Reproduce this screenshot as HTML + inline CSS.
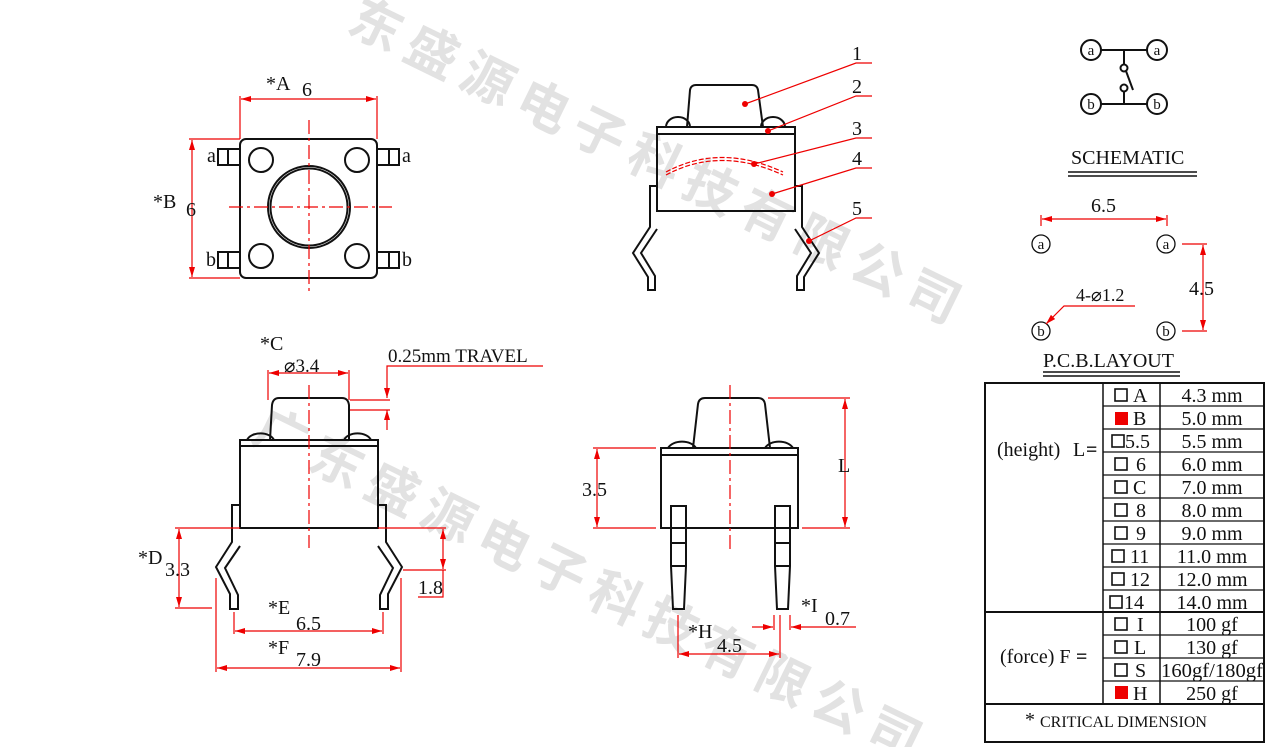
<!DOCTYPE html>
<html><head><meta charset="utf-8"><style>
html,body{margin:0;padding:0;background:#fff;overflow:hidden;width:1265px;height:747px;}
svg{display:block;}
text{font-family:"Liberation Serif","Noto Serif CJK SC",serif;fill:#111;}
text.wm{font-family:"Noto Sans CJK SC","WenQuanYi Zen Hei",sans-serif;font-weight:bold;fill:#e2e2e2;font-size:52px;}
</style></head><body>
<svg width="1265" height="747" viewBox="0 0 1265 747" xmlns="http://www.w3.org/2000/svg">
<defs>
<marker id="ar" viewBox="0 0 10 6" refX="10" refY="3" markerWidth="10" markerHeight="6" orient="auto-start-reverse" markerUnits="userSpaceOnUse"><path d="M0,0 L10,3 L0,6 z" fill="#e00"/></marker>
</defs>
<!-- watermark -->
<text class="wm" transform="translate(345,30) rotate(26)" letter-spacing="10">东盛源电子科技有限公司</text>
<text class="wm" transform="translate(250,440) rotate(26)" letter-spacing="10">广东盛源电子科技有限公司</text>

<g fill="none" stroke="#111" stroke-width="2">
<!-- TOP LEFT VIEW -->
<rect x="240" y="139" width="137" height="139" rx="6"/>
<circle cx="261" cy="160" r="12"/><circle cx="357" cy="160" r="12"/>
<circle cx="261" cy="256" r="12"/><circle cx="357" cy="256" r="12"/>
<circle cx="309" cy="207" r="41"/><circle cx="309" cy="207" r="38.5"/>
<rect x="218" y="149" width="22" height="16"/><line x1="228" y1="149" x2="228" y2="165"/>
<rect x="218" y="252" width="22" height="16"/><line x1="228" y1="252" x2="228" y2="268"/>
<rect x="377" y="149" width="22" height="16"/><line x1="389" y1="149" x2="389" y2="165"/>
<rect x="377" y="252" width="22" height="16"/><line x1="389" y1="252" x2="389" y2="268"/>

<!-- TOP MIDDLE SIDE VIEW -->
<path d="M687,127 L690,90 Q691,85 696,85 L752,85 Q757,85 758,90 L763,127"/>
<rect x="657" y="127" width="138" height="7"/>
<path d="M666,127 A12,10 0 0 1 690,127"/><path d="M761,127 A12,10 0 0 1 785,127"/>
<rect x="657" y="134" width="138" height="77"/>
<path d="M657,186 L650,186 L650,227 L633,253 L648,277 L648,290 L655,290 L655,276 L641,253 L657,229"/>
<path d="M795,186 L802,186 L802,227 L819,253 L804,277 L804,290 L797,290 L797,276 L811,253 L795,229"/>

<!-- BOTTOM LEFT -->
<path d="M270,440 L272,405 Q273,398 279,398 L342,398 Q348,398 349,405 L349,440"/>
<rect x="240" y="440" width="138" height="6"/>
<path d="M247,440 A14,9 0 0 1 274,440"/><path d="M344,440 A14,9 0 0 1 371,440"/>
<rect x="240" y="446" width="138" height="82"/>
<path d="M240,505 L232,505 L232,542 L216,567 L230,594 L230,609 L238,609 L238,595 L225,568 L240,546"/>
<path d="M378,505 L386,505 L386,542 L402,567 L388,594 L388,609 L380,609 L380,595 L393,568 L378,546"/>

<!-- BOTTOM MIDDLE -->
<path d="M693,448 L698,404 Q699,398 705,398 L758,398 Q764,398 765,404 L770,448"/>
<rect x="661" y="448" width="137" height="7"/>
<path d="M668,448 A15,10 0 0 1 696,448"/><path d="M765,448 A15,10 0 0 1 793,448"/>
<rect x="661" y="455" width="137" height="73"/>
<path d="M671,506 L686,506 L686,566 L684,609 L673,609 L671,566 Z"/>
<line x1="671" y1="543" x2="686" y2="543"/><line x1="671" y1="566" x2="686" y2="566"/>
<path d="M775,506 L790,506 L790,566 L788,609 L777,609 L775,566 Z"/>
<line x1="775" y1="543" x2="790" y2="543"/><line x1="775" y1="566" x2="790" y2="566"/>

<!-- SCHEMATIC -->
<circle cx="1091" cy="50" r="10"/><circle cx="1157" cy="50" r="10"/>
<circle cx="1091" cy="104" r="10"/><circle cx="1157" cy="104" r="10"/>
<line x1="1101" y1="50" x2="1147" y2="50"/><line x1="1124" y1="50" x2="1124" y2="64"/>
<circle cx="1124" cy="68" r="3.5"/><line x1="1126" y1="71" x2="1133" y2="90"/>
<circle cx="1124" cy="88" r="3.5"/><line x1="1124" y1="92" x2="1124" y2="104"/>
<line x1="1101" y1="104" x2="1147" y2="104"/>
<line x1="1068" y1="172" x2="1197" y2="172" stroke-width="1.5"/><line x1="1068" y1="176" x2="1197" y2="176" stroke-width="1.5"/>
<g stroke-width="1.3"><circle cx="1041" cy="244" r="9"/><circle cx="1166" cy="244" r="9"/>
<circle cx="1041" cy="331" r="9"/><circle cx="1166" cy="331" r="9"/></g>
<line x1="1043" y1="372" x2="1180" y2="372" stroke-width="1.5"/><line x1="1043" y1="376" x2="1180" y2="376" stroke-width="1.5"/>

<!-- TABLE -->
<rect x="985" y="383" width="279" height="359"/>
<line x1="985" y1="612" x2="1264" y2="612"/><line x1="985" y1="704" x2="1264" y2="704"/>
<line x1="1103" y1="383" x2="1103" y2="704" stroke-width="1.5"/><line x1="1160" y1="383" x2="1160" y2="704" stroke-width="1.5"/>
<g stroke-width="1.3">
<line x1="1103" y1="406" x2="1264" y2="406"/><line x1="1103" y1="429" x2="1264" y2="429"/>
<line x1="1103" y1="452" x2="1264" y2="452"/><line x1="1103" y1="475" x2="1264" y2="475"/>
<line x1="1103" y1="498" x2="1264" y2="498"/><line x1="1103" y1="521" x2="1264" y2="521"/>
<line x1="1103" y1="544" x2="1264" y2="544"/><line x1="1103" y1="567" x2="1264" y2="567"/>
<line x1="1103" y1="590" x2="1264" y2="590"/>
<line x1="1103" y1="635" x2="1264" y2="635"/><line x1="1103" y1="658" x2="1264" y2="658"/><line x1="1103" y1="681" x2="1264" y2="681"/>
</g>
<g stroke-width="1.6">
<rect x="1115" y="389" width="12" height="12"/>
<rect x="1112" y="435" width="12" height="12"/>
<rect x="1115" y="458" width="12" height="12"/><rect x="1115" y="481" width="12" height="12"/>
<rect x="1115" y="504" width="12" height="12"/><rect x="1115" y="527" width="12" height="12"/>
<rect x="1112" y="550" width="12" height="12"/><rect x="1112" y="573" width="12" height="12"/>
<rect x="1110" y="596" width="12" height="12"/>
<rect x="1115" y="618" width="12" height="12"/><rect x="1115" y="641" width="12" height="12"/>
<rect x="1115" y="664" width="12" height="12"/>
</g>
</g>
<rect x="1115" y="412" width="13" height="13" fill="#e00"/>
<rect x="1115" y="686" width="13" height="13" fill="#e00"/>

<!-- RED dims -->
<g stroke="#e00" stroke-width="1.2" fill="none">
<line x1="309" y1="120" x2="309" y2="292" stroke-dasharray="14,4,3,4"/>
<line x1="229" y1="207" x2="392" y2="207" stroke-dasharray="14,4,3,4"/>
<line x1="240" y1="96" x2="240" y2="139"/><line x1="377" y1="96" x2="377" y2="139"/>
<line x1="241" y1="99" x2="376" y2="99" marker-start="url(#ar)" marker-end="url(#ar)"/>
<line x1="189" y1="139" x2="240" y2="139"/><line x1="189" y1="278" x2="240" y2="278"/>
<line x1="192" y1="140" x2="192" y2="277" marker-start="url(#ar)" marker-end="url(#ar)"/>

<polyline points="745,104 856,63 872,63"/><polyline points="768,131 856,96 872,96"/>
<polyline points="754,164 856,138 872,138"/><polyline points="772,194 856,168 872,168"/>
<polyline points="809,241 856,218 872,218"/>
<path d="M666,175 Q720,146 783,175" stroke-dasharray="5,2"/>
<path d="M666,172 Q720,143 783,172" stroke-dasharray="5,2"/>

<line x1="309" y1="385" x2="309" y2="548" stroke-dasharray="14,4,3,4"/>
<line x1="268" y1="370" x2="268" y2="400"/><line x1="349" y1="370" x2="349" y2="400"/>
<line x1="269" y1="373" x2="348" y2="373" marker-start="url(#ar)" marker-end="url(#ar)"/>
<polyline points="543,366 387,366 387,398" marker-end="url(#ar)"/>
<line x1="350" y1="400" x2="390" y2="400"/><line x1="350" y1="410" x2="390" y2="410"/>
<line x1="387" y1="430" x2="387" y2="410" marker-end="url(#ar)"/>
<line x1="175" y1="528" x2="240" y2="528"/><line x1="175" y1="608" x2="212" y2="608"/>
<line x1="179" y1="529" x2="179" y2="607" marker-start="url(#ar)" marker-end="url(#ar)"/>
<line x1="378" y1="528" x2="446" y2="528"/><line x1="403" y1="570" x2="446" y2="570"/>
<line x1="443" y1="529" x2="443" y2="569" marker-start="url(#ar)" marker-end="url(#ar)"/>
<polyline points="418,597 443,597 443,570"/>
<line x1="234" y1="612" x2="234" y2="634"/><line x1="383" y1="612" x2="383" y2="634"/>
<line x1="235" y1="631" x2="382" y2="631" marker-start="url(#ar)" marker-end="url(#ar)"/>
<line x1="216" y1="578" x2="216" y2="672"/><line x1="401" y1="578" x2="401" y2="672"/>
<line x1="217" y1="668" x2="400" y2="668" marker-start="url(#ar)" marker-end="url(#ar)"/>

<line x1="730" y1="385" x2="730" y2="550" stroke-dasharray="14,4,3,4"/>
<line x1="593" y1="448" x2="656" y2="448"/><line x1="593" y1="528" x2="656" y2="528"/>
<line x1="597" y1="449" x2="597" y2="527" marker-start="url(#ar)" marker-end="url(#ar)"/>
<line x1="768" y1="398" x2="850" y2="398"/><line x1="802" y1="528" x2="850" y2="528"/>
<line x1="845" y1="399" x2="845" y2="527" marker-start="url(#ar)" marker-end="url(#ar)"/>
<line x1="678" y1="615" x2="678" y2="658"/><line x1="780" y1="615" x2="780" y2="658"/>
<line x1="679" y1="654" x2="779" y2="654" marker-start="url(#ar)" marker-end="url(#ar)"/>
<line x1="774" y1="615" x2="774" y2="630"/><line x1="790" y1="615" x2="790" y2="630"/>
<line x1="752" y1="627" x2="773" y2="627" marker-end="url(#ar)"/>
<line x1="856" y1="627" x2="791" y2="627" marker-end="url(#ar)"/>

<line x1="1041" y1="215" x2="1041" y2="226"/><line x1="1167" y1="215" x2="1167" y2="226"/>
<line x1="1042" y1="219" x2="1166" y2="219" marker-start="url(#ar)" marker-end="url(#ar)"/>
<line x1="1182" y1="244" x2="1207" y2="244"/><line x1="1182" y1="331" x2="1207" y2="331"/>
<line x1="1203" y1="245" x2="1203" y2="330" marker-start="url(#ar)" marker-end="url(#ar)"/>
<polyline points="1135,306 1064,306 1046,324" marker-end="url(#ar)"/>
</g>
<g fill="#e00">
<circle cx="745" cy="104" r="3"/><circle cx="768" cy="131" r="3"/><circle cx="754" cy="164" r="3"/>
<circle cx="772" cy="194" r="3"/><circle cx="809" cy="241" r="3"/>
</g>

<!-- TEXT -->
<g font-size="20">
<text x="266" y="90">*A</text><text x="302" y="96">6</text>
<text x="153" y="208">*B</text><text x="186" y="216">6</text>
<text x="207" y="162">a</text><text x="402" y="162">a</text>
<text x="206" y="266">b</text><text x="402" y="266">b</text>
<text x="852" y="60">1</text><text x="852" y="93">2</text><text x="852" y="135">3</text>
<text x="852" y="165">4</text><text x="852" y="215">5</text>
<text x="260" y="350">*C</text><text x="284" y="372" font-size="19">⌀3.4</text>
<text x="388" y="362" font-size="19">0.25mm TRAVEL</text>
<text x="138" y="564">*D</text><text x="165" y="576">3.3</text>
<text x="418" y="594">1.8</text>
<text x="268" y="614">*E</text><text x="296" y="630">6.5</text>
<text x="268" y="654">*F</text><text x="296" y="666">7.9</text>
<text x="582" y="496">3.5</text>
<text x="838" y="472">L</text>
<text x="688" y="638">*H</text><text x="717" y="652">4.5</text>
<text x="801" y="612">*I</text><text x="825" y="625">0.7</text>
<text x="1071" y="164">SCHEMATIC</text>
<text x="1091" y="212">6.5</text>
<text x="1189" y="295">4.5</text>
<text x="1076" y="301" font-size="18">4-⌀1.2</text>
<text x="1043" y="367">P.C.B.LAYOUT</text>
</g>
<g font-size="15" text-anchor="middle">
<text x="1091" y="55">a</text><text x="1157" y="55">a</text><text x="1091" y="109">b</text><text x="1157" y="109">b</text>
<text x="1041" y="249">a</text><text x="1166" y="249">a</text><text x="1041" y="336">b</text><text x="1166" y="336">b</text>
</g>
<g font-size="20">
<text x="997" y="456">(height)</text><text x="1073" y="456">L</text><text x="1086" y="456" font-family="Liberation Sans,sans-serif" font-weight="bold">=</text>
<text x="1000" y="663">(force) F</text><text x="1076" y="663" font-family="Liberation Sans,sans-serif" font-weight="bold">=</text>
<text x="1133" y="402">A</text><text x="1133" y="425">B</text><text x="1125" y="448">5.5</text>
<text x="1136" y="471">6</text><text x="1133" y="494">C</text><text x="1136" y="517">8</text>
<text x="1136" y="540">9</text><text x="1130" y="563">11</text><text x="1130" y="586">12</text><text x="1124" y="609">14</text>
<text x="1137" y="631">I</text><text x="1134" y="654">L</text><text x="1135" y="677">S</text><text x="1133" y="700">H</text>
</g>
<g font-size="20" text-anchor="middle">
<text x="1212" y="402">4.3 mm</text><text x="1212" y="425">5.0 mm</text><text x="1212" y="448">5.5 mm</text>
<text x="1212" y="471">6.0 mm</text><text x="1212" y="494">7.0 mm</text><text x="1212" y="517">8.0 mm</text>
<text x="1212" y="540">9.0 mm</text><text x="1212" y="563">11.0 mm</text><text x="1212" y="586">12.0 mm</text>
<text x="1212" y="609">14.0 mm</text>
<text x="1212" y="631">100 gf</text><text x="1212" y="654">130 gf</text>
<text x="1212" y="677" textLength="102" lengthAdjust="spacingAndGlyphs">160gf/180gf</text><text x="1212" y="700">250 gf</text>
</g>
<text x="1025" y="726" font-size="20">*</text>
<text x="1040" y="727" font-size="16">CRITICAL  DIMENSION</text>
</svg>
</body></html>
